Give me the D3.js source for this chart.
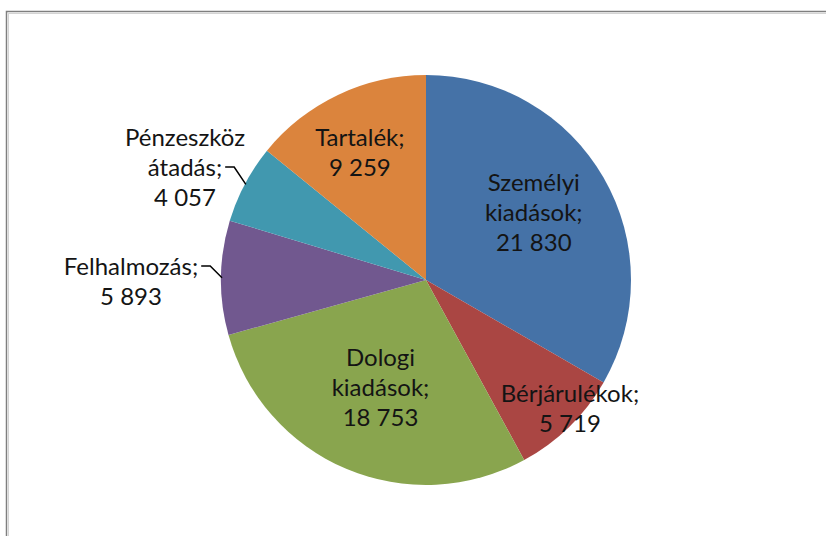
<!DOCTYPE html>
<html><head><meta charset="utf-8">
<script src="https://cdn.jsdelivr.net/npm/d3@7"></script>
<style>body{margin:0;background:#fff}svg{display:block}text{font-family:Lato,"Open Sans",sans-serif;fill:#141414}</style>
</head><body><svg id="c" width="826" height="536"></svg>
<script>
const categories = ["Személyi kiadások", "Bérjárulékok", "Dologi kiadások", "Felhalmozás", "Pénzeszköz átadás", "Tartalék"];
const values = [21830, 5719, 18753, 5893, 4057, 9259];
const labelLines = [["Személyi", "kiadások;", "21 830"], ["Bérjárulékok;", "5 719"], ["Dologi", "kiadások;", "18 753"], ["Felhalmozás;", "5 893"], ["Pénzeszköz", "átadás;", "4 057"], ["Tartalék;", "9 259"]];
const colors = ["#4572A7", "#AA4643", "#89A54E", "#71588F", "#4198AF", "#DB843D"];

const svg = d3.select("#c");
// frame
svg.append("rect").attr("x", 6.5).attr("y", 11.5).attr("width", 900).attr("height", 600).attr("fill", "none").attr("stroke", "#7f7f7f").attr("stroke-width", 1.5);
svg.append("rect").attr("x", 8.5).attr("y", 13.5).attr("width", 900).attr("height", 600).attr("fill", "none").attr("stroke", "#d4d4d4").attr("stroke-width", 1);

const cx = 426, cy = 280, R = 205;
const g = svg.append("g").attr("transform", `translate(${cx},${cy})`);
const pie = d3.pie().sort(null).value(d => d)(values);
const arc = d3.arc().innerRadius(0).outerRadius(R);
g.selectAll("path").data(pie).join("path").attr("d", arc).attr("fill", (d, i) => colors[i]);

const lab = [
  {r: 0.62, da: -2},
  {r: 0.94, da: -4},
  {r: 0.57, da: 0},
  {out: true, pos: [-295, 2]},
  {out: true, pos: [-241, -112]},
  {r: 0.70, da: -2}
];
const lh = 30;
const texts = [];
pie.forEach((p, i) => {
  const L = lab[i];
  const mid = (p.startAngle + p.endAngle) / 2;
  let x, y;
  if (L.out) { [x, y] = L.pos; }
  else {
    const a = mid + L.da * Math.PI / 180;
    x = Math.sin(a) * R * L.r; y = -Math.cos(a) * R * L.r;
  }
  const lines = labelLines[i];
  const t = g.append("text").attr("text-anchor", "middle").attr("font-size", 24);
  lines.forEach((s, k) => {
    t.append("tspan").attr("x", x).attr("y", y + (k - (lines.length - 1) / 2) * lh).attr("dy", "0.35em").text(s);
  });
  texts.push(t);
});
function leader(i, lineIdx) {
  const p = pie[i], L = lab[i];
  const mid = (p.startAngle + p.endAngle) / 2;
  const ex = Math.sin(mid) * (R - 1), ey = -Math.cos(mid) * (R - 1);
  const ts = texts[i].selectAll("tspan").nodes()[lineIdx];
  const w = ts.getComputedTextLength();
  const x0 = L.pos[0] + w / 2 + 3;
  const y0 = L.pos[1] + (lineIdx - (labelLines[i].length - 1) / 2) * lh - 1;
  const xk = x0 + 9;
  g.append("path").attr("d", `M${x0},${y0}H${xk}L${ex},${ey}`).attr("fill", "none").attr("stroke", "#000").attr("stroke-width", 1.5);
}
leader(3, 0);
leader(4, 1);
</script></body></html>
